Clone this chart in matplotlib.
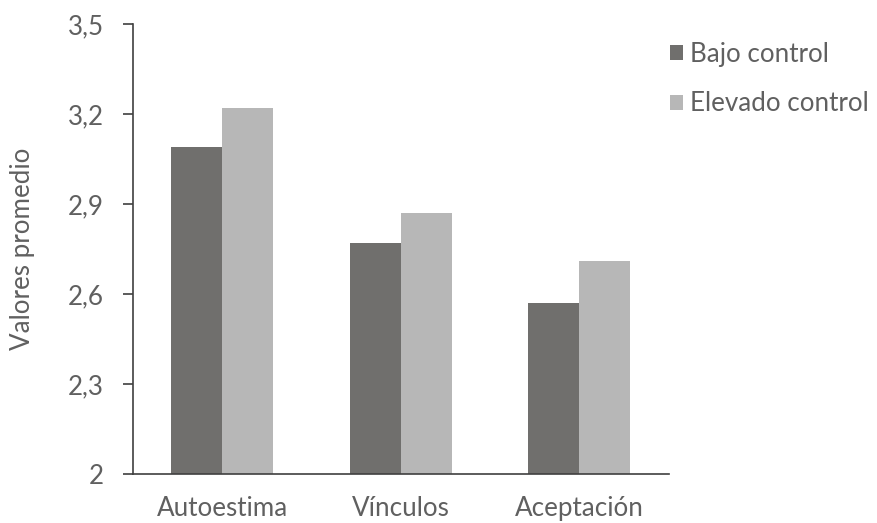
import matplotlib
matplotlib.use("Agg")
import matplotlib.pyplot as plt
import numpy as np
from matplotlib.ticker import FuncFormatter

categories = ["Autoestima", "Vínculos", "Aceptación"]
bajo_control = [3.09, 2.77, 2.57]
elevado_control = [3.22, 2.87, 2.71]
series_names = ["Bajo control", "Elevado control"]
yticks = [2.0, 2.3, 2.6, 2.9, 3.2, 3.5]

plt.rcParams['font.family'] = ['Lato', 'DejaVu Sans']
text_color = "#606060"
fs = 18.7

fig = plt.figure(figsize=(8.77, 5.23), dpi=100)
ax = fig.add_axes([133/877, 49/523, 535.5/877, 450/523])

x = np.arange(len(categories))
w = 0.286
ax.bar(x - w/2, bajo_control, w, color="#706f6d", label=series_names[0])
ax.bar(x + w/2, elevado_control, w, color="#b7b7b7", label=series_names[1])

ax.set_xlim(-0.5, 2.5)
ax.set_ylim(2, 3.5)
ax.set_yticks(yticks)
ax.yaxis.set_major_formatter(FuncFormatter(lambda v, p: f"{v:g}".replace(".", ",")))
ax.set_xticks(x)
ax.set_xticklabels(categories)

for s in ["top", "right"]:
    ax.spines[s].set_visible(False)
for s in ["left", "bottom"]:
    ax.spines[s].set_color("#404040")
    ax.spines[s].set_linewidth(1.2)
ax.tick_params(axis="y", length=7.2, width=1.2, color="#404040", labelsize=fs, labelcolor=text_color, pad=14)
ax.tick_params(axis="x", length=0, labelsize=fs, labelcolor=text_color, pad=16)

fig.text(23/877, 1 - 249/523, "Valores promedio", rotation=90, ha="center", va="center",
         fontsize=fs, color=text_color)

leg = fig.legend(loc="upper left", bbox_to_anchor=(670/877, 1 - 42/523), frameon=False,
                 fontsize=fs, labelcolor=text_color, handlelength=0.5, handleheight=0.5,
                 handletextpad=0.27, labelspacing=0.94, borderaxespad=0, borderpad=0)

fig.savefig("out.png", dpi=100)
